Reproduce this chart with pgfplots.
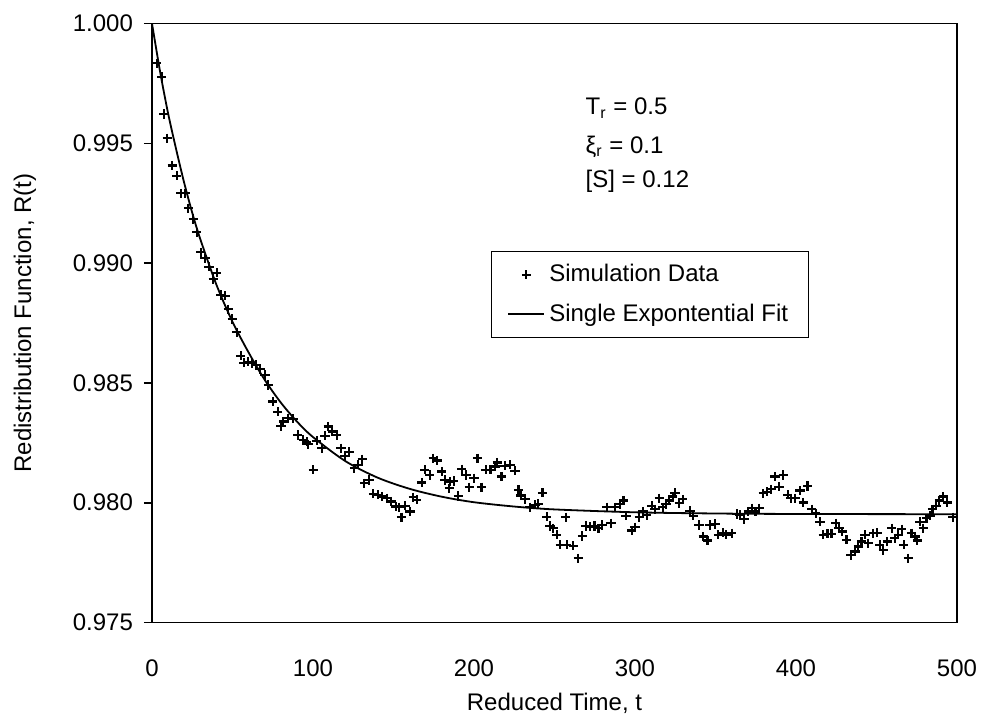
\documentclass[border=0pt]{standalone}
\usepackage{fontspec}
\setmainfont{Liberation Sans}
\usepackage{pgfplots}
\pgfplotsset{compat=1.18}
\pgfplotsset{
  marklegend/.style={legend image code/.code={\draw[mark repeat=2,mark phase=2,##1] plot coordinates {(0pt,0pt)(9pt,0pt)(18pt,0pt)};}},
  linelegend/.style={legend image code/.code={\draw[##1] (0pt,0pt) -- (18pt,0pt);}},
}
\begin{document}
\begin{tikzpicture}
\useasboundingbox (-76pt,-48.75pt) rectangle (416.5pt,311.25pt);
\begin{axis}[
  scale only axis, width=402.5pt, height=299.5pt,
  at={(0,0)}, anchor=south west,
  xmin=0, xmax=500, ymin=0.975, ymax=1.0,
  xtick={0,100,200,300,400,500},
  ytick={0.975,0.980,0.985,0.990,0.995,1.000},
  scaled y ticks=false,
  /pgf/number format/assume math mode=true,
  yticklabel style={xshift=-2pt, /pgf/number format/fixed, /pgf/number format/fixed zerofill, /pgf/number format/precision=3},
  tick label style={font=\fontsize{12}{14}\selectfont},
  axis line style={line width=0.8pt},
  ytick pos=left, xtick pos=bottom,
  tick align=outside,
  major tick length=4pt,
  y tick style={black, line width=0.8pt},
  x tick style={draw=none},
  xticklabel style={yshift=-11pt},
  xlabel={Reduced Time, t},
  ylabel={Redistribution Function, R(t)},
  label style={font=\fontsize{12}{14}\selectfont},
  xlabel style={at={(axis description cs:0.5,-0.1356)}, anchor=center},
  ylabel style={at={(axis description cs:-0.1578,0.5)}, anchor=center},
  legend style={at={(axis description cs:0.4211,0.6202)}, anchor=north west,
    draw=black, line width=0.5pt, font=\fontsize{12}{14}\selectfont,
    inner xsep=8pt, inner ysep=4.5pt, row sep=5.5pt},
  legend cell align=left,
]
\addplot[only marks, mark=+, mark size=2.3pt, line width=1.1pt, black, marklegend]
coordinates {
(2.9,0.99834)(6.0,0.99778)(7.5,0.99622)(9.5,0.99521)(12.6,0.99407)(15.3,0.99365)
(17.8,0.99291)(20.5,0.99291)(22.6,0.99229)(25.7,0.99184)(27.8,0.99129)(30.2,0.99045)
(32.9,0.99020)(35.4,0.98985)(38.1,0.98934)(40.2,0.98960)(42.7,0.98867)(45.3,0.98864)
(47.4,0.98807)(49.9,0.98767)(52.6,0.98711)(55.1,0.98613)(57.1,0.98584)(59.8,0.98588)
(61.9,0.98582)(64.6,0.98575)(67.1,0.98558)(70.2,0.98533)(72.2,0.98491)(75.0,0.98422)
(78.1,0.98380)(80.1,0.98320)(81.6,0.98339)(84.7,0.98352)(87.8,0.98350)(90.5,0.98283)
(94.0,0.98262)(96.1,0.98255)(97.1,0.98244)(100.2,0.98137)(102.3,0.98259)(105.4,0.98227)
(107.4,0.98279)(109.5,0.98318)(112.0,0.98297)(114.7,0.98283)(117.4,0.98227)(119.9,0.98195)
(122.4,0.98213)(125.7,0.98144)(128.1,0.98158)(130.6,0.98181)(131.9,0.98081)(134.8,0.98095)
(137.5,0.98037)(140.6,0.98033)(143.1,0.98026)(145.8,0.98019)(148.4,0.98005)(151.5,0.97984)
(153.6,0.97981)(155.0,0.97939)(157.1,0.97987)(160.2,0.97963)(162.3,0.98023)(164.4,0.98012)
(167.5,0.98084)(169.5,0.98137)(172.6,0.98116)(174.7,0.98186)(177.2,0.98176)(179.9,0.98130)
(182.0,0.98095)(184.6,0.98060)(185.1,0.98088)(187.5,0.98091)(190.2,0.98028)(192.3,0.98140)
(195.0,0.98116)(197.1,0.98065)(200.0,0.98102)(202.2,0.98186)(204.7,0.98065)(207.4,0.98137)
(210.3,0.98137)(213.0,0.98151)(214.5,0.98168)(217.1,0.98109)(219.2,0.98154)(222.4,0.98158)
(225.5,0.98134)(227.6,0.98053)(229.2,0.98030)(231.7,0.98014)(234.8,0.97981)(237.9,0.97991)
(240.0,0.97995)(242.5,0.98042)(245.2,0.97942)(247.2,0.97903)(249.3,0.97893)(251.4,0.97866)
(253.5,0.97824)(257.0,0.97939)(257.6,0.97824)(261.7,0.97820)(264.8,0.97768)(267.3,0.97861)
(269.4,0.97903)(272.1,0.97900)(274.8,0.97903)(277.3,0.97893)(279.7,0.97907)(282.4,0.97981)
(285.1,0.97914)(287.6,0.97981)(290.7,0.97995)(292.8,0.98009)(294.4,0.97945)(298.0,0.97884)
(300.0,0.97898)(302.7,0.97939)(304.8,0.97963)(307.3,0.97949)(310.4,0.97987)(312.4,0.97973)
(315.1,0.98019)(317.2,0.97981)(319.3,0.97995)(321.3,0.98009)(323.4,0.98026)(324.9,0.98042)
(327.5,0.97998)(329.6,0.98014)(334.2,0.97967)(336.2,0.97945)(339.8,0.97907)(342.4,0.97859)
(345.0,0.97842)(346.6,0.97907)(349.7,0.97911)(351.8,0.97866)(354.5,0.97875)(356.5,0.97866)
(360.0,0.97873)(363.2,0.97953)(365.2,0.97949)(367.9,0.97931)(370.4,0.97963)(372.9,0.97977)
(374.9,0.97963)(377.0,0.97977)(379.7,0.98039)(381.8,0.98046)(384.5,0.98056)(386.9,0.98109)
(389.4,0.98067)(392.1,0.98116)(394.8,0.98033)(396.9,0.98019)(399.4,0.98019)(402.5,0.98051)
(404.5,0.98001)(407.2,0.98070)(409.7,0.97973)(412.2,0.97956)(414.9,0.97921)(416.9,0.97866)
(419.6,0.97870)(422.1,0.97870)(424.6,0.97914)(426.7,0.97893)(428.8,0.97880)(431.4,0.97845)
(434.1,0.97782)(436.6,0.97796)(438.7,0.97817)(440.7,0.97838)(442.8,0.97866)(444.9,0.97831)
(448.0,0.97873)(450.5,0.97875)(452.1,0.97824)(454.2,0.97803)(456.7,0.97838)(459.4,0.97893)
(461.4,0.97852)(463.5,0.97866)(465.6,0.97889)(467.0,0.97824)(469.7,0.97768)(471.8,0.97873)
(473.9,0.97859)(475.3,0.97842)(477.0,0.97921)(479.0,0.97893)(481.1,0.97935)(483.2,0.97945)
(484.8,0.97973)(486.9,0.97987)(489.0,0.98009)(491.5,0.98026)(494.0,0.98001)(497.3,0.97939)
};
\addlegendentry{Simulation Data}
\addplot[black, line width=0.9pt, smooth, linelegend]
coordinates {
(0,1.00000)(5,0.99800)(10,0.99625)(15,0.99475)(20,0.99335)(25,0.99210)(30,0.99100)
(40,0.98910)(50,0.98755)(60,0.98627)(70,0.98513)(80,0.98418)(90,0.98339)(100,0.98274)
(120,0.98174)(140,0.98105)(160,0.98058)(180,0.98025)(200,0.98002)(225,0.97984)
(250,0.97972)(300,0.97960)(350,0.97955)(400,0.97953)(500,0.97952)
};
\addlegendentry{Single Expontential Fit}
\node[anchor=west, font=\fontsize{12}{14}\selectfont] at (axis cs:265,0.99646) {T\textsubscript{r} = 0.5};
\node[anchor=west, font=\fontsize{12}{14}\selectfont] at (axis cs:265,0.99487) {ξ\textsubscript{r} = 0.1};
\node[anchor=west, font=\fontsize{12}{14}\selectfont] at (axis cs:265,0.99341) {[S] = 0.12};
\end{axis}
\end{tikzpicture}
\end{document}
